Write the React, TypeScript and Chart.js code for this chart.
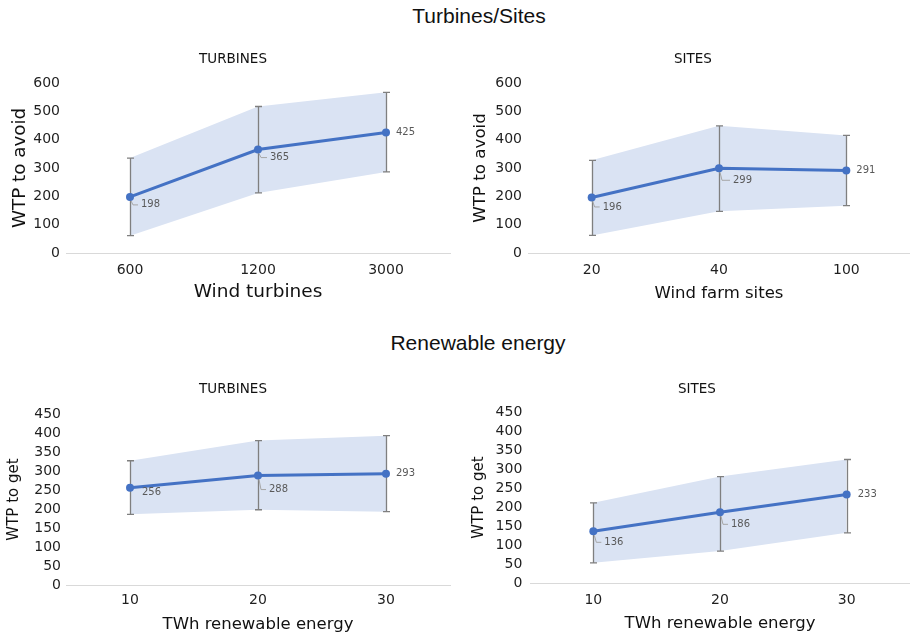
import React, { useEffect, useRef } from 'react';
import { Chart, registerables } from 'chart.js';

Chart.register(...registerables);

// Willingness to pay to avoid more wind turbines
const turbineCategories = ['600', '1200', '3000'];
const turbineAvoidMean = [198, 365, 425];
const turbineAvoidLow = [61, 212, 286];
const turbineAvoidHigh = [335, 517, 567];

// Willingness to pay to avoid more wind farm sites
const siteCategories = ['20', '40', '100'];
const siteAvoidMean = [196, 299, 291];
const siteAvoidLow = [62, 147, 167];
const siteAvoidHigh = [327, 449, 415];

// Willingness to pay to get more renewable energy (TWh)
const twhCategories = ['10', '20', '30'];
const turbineGetMean = [256, 288, 293];
const turbineGetLow = [186, 198, 193];
const turbineGetHigh = [327, 380, 393];

const siteGetMean = [136, 186, 233];
const siteGetLow = [53, 84, 132];
const siteGetHigh = [211, 280, 325];

const avoidAxisMax = 600;
const avoidAxisStep = 100;
const getAxisMax = 450;
const getAxisStep = 50;

const sectionTitles = ['Turbines/Sites', 'Renewable energy'];

const CHART_FONT = '"DejaVu Sans", Verdana, sans-serif';
const SECTION_FONT = '"Liberation Sans", Arial, sans-serif';
const LINE_BLUE = '#4472c4';
const BAND_BLUE = '#dae3f3';

type Panel = {
  caption: string;
  captionX: number;
  captionY: number;
  labels: string[];
  mean: number[];
  low: number[];
  high: number[];
  yMax: number;
  yStep: number;
  yTitle: string;
  xTitle: string;
  left: number;
  top: number;
  width: number;
  height: number;
  padTop: number;
  padRight: number;
  yWidth: number;
  yTickPad: number;
  yTitleSize: number;
  yTitlePad: number;
  xHeight: number;
  xTickPad: number;
  xTitleSize: number;
  xTitlePad: number;
  labelOffsets: [number, number][];
};

const panels: Panel[] = [
  {
    caption: 'TURBINES', captionX: 233, captionY: 58,
    labels: turbineCategories, mean: turbineAvoidMean, low: turbineAvoidLow, high: turbineAvoidHigh,
    yMax: avoidAxisMax, yStep: avoidAxisStep,
    yTitle: 'WTP to avoid', xTitle: 'Wind turbines',
    left: 0, top: 40, width: 455, height: 270,
    padTop: 43, padRight: 5,
    yWidth: 66, yTickPad: 6, yTitleSize: 18.3, yTitlePad: 9.5,
    xHeight: 57, xTickPad: 8.6, xTitleSize: 18.5, xTitlePad: 7.1,
    labelOffsets: [[11, 8], [12, 8], [10, 0]],
  },
  {
    caption: 'SITES', captionX: 693, captionY: 58,
    labels: siteCategories, mean: siteAvoidMean, low: siteAvoidLow, high: siteAvoidHigh,
    yMax: avoidAxisMax, yStep: avoidAxisStep,
    yTitle: 'WTP to avoid', xTitle: 'Wind farm sites',
    left: 460, top: 40, width: 450, height: 270,
    padTop: 43, padRight: 0,
    yWidth: 68, yTickPad: 6, yTitleSize: 16.7, yTitlePad: 10.8,
    xHeight: 57, xTickPad: 8.6, xTitleSize: 16.5, xTitlePad: 6.8,
    labelOffsets: [[11, 9.5], [14, 12], [10, 0]],
  },
  {
    caption: 'TURBINES', captionX: 233, captionY: 388,
    labels: twhCategories, mean: turbineGetMean, low: turbineGetLow, high: turbineGetHigh,
    yMax: getAxisMax, yStep: getAxisStep,
    yTitle: 'WTP to get', xTitle: 'TWh renewable energy',
    left: 0, top: 370, width: 455, height: 266,
    padTop: 44, padRight: 5,
    yWidth: 66, yTickPad: 5, yTitleSize: 15, yTitlePad: 5,
    xHeight: 51, xTickPad: 6.6, xTitleSize: 16.5, xTitlePad: 1.8,
    labelOffsets: [[12, 5], [11, 14], [10, 0]],
  },
  {
    caption: 'SITES', captionX: 697, captionY: 388,
    labels: twhCategories, mean: siteGetMean, low: siteGetLow, high: siteGetHigh,
    yMax: getAxisMax, yStep: getAxisStep,
    yTitle: 'WTP to get', xTitle: 'TWh renewable energy',
    left: 460, top: 370, width: 450, height: 266,
    padTop: 42, padRight: 0,
    yWidth: 70, yTickPad: 7.7, yTitleSize: 15, yTitlePad: 10,
    xHeight: 53, xTickPad: 8.6, xTitleSize: 16.5, xTitlePad: 2.8,
    labelOffsets: [[11, 11], [11, 12], [11, 0]],
  },
];

// Draws confidence whiskers under the mean line, and value labels with short leader lines on top.
const whiskerPlugin = {
  id: 'whiskers',
  beforeDatasetDraw(chart: any, args: any) {
    if (args.index !== 0) return;
    const { ctx } = chart;
    const x = chart.scales.x;
    const y = chart.scales.y;
    const low = chart.data.datasets[1].data as number[];
    const high = chart.data.datasets[2].data as number[];
    ctx.save();
    ctx.strokeStyle = '#7f7f7f';
    ctx.lineWidth = 1.3;
    low.forEach((lo, i) => {
      const px = Math.round(x.getPixelForValue(i)) + 0.5;
      const yl = y.getPixelForValue(lo);
      const yh = y.getPixelForValue(high[i]);
      ctx.beginPath();
      ctx.moveTo(px, yh);
      ctx.lineTo(px, yl);
      ctx.moveTo(px - 3.5, yh);
      ctx.lineTo(px + 3.5, yh);
      ctx.moveTo(px - 3.5, yl);
      ctx.lineTo(px + 3.5, yl);
      ctx.stroke();
    });
    ctx.restore();
  },
  afterDatasetsDraw(chart: any, _args: any, opts: any) {
    const { ctx } = chart;
    const meta = chart.getDatasetMeta(0);
    const values = chart.data.datasets[0].data as number[];
    const offsets = opts.offsets as [number, number][];
    ctx.save();
    ctx.font = `10px ${CHART_FONT}`;
    ctx.fillStyle = '#595959';
    ctx.textAlign = 'left';
    ctx.textBaseline = 'middle';
    ctx.strokeStyle = '#a6a6a6';
    ctx.lineWidth = 1;
    meta.data.forEach((pt: any, i: number) => {
      const [dx, dy] = offsets[i];
      if (dy > 5) {
        ctx.beginPath();
        ctx.moveTo(pt.x + 1, pt.y + 4);
        ctx.lineTo(pt.x + 3, pt.y + dy);
        ctx.lineTo(pt.x + dx - 3, pt.y + dy);
        ctx.stroke();
      }
      ctx.fillText(String(values[i]), pt.x + dx, pt.y + dy);
    });
    ctx.restore();
  },
};

function PanelChart({ p }: { p: Panel }) {
  const ref = useRef<HTMLCanvasElement>(null);

  useEffect(() => {
    const canvas = ref.current;
    if (!canvas) return;
    const chart = new Chart(canvas, {
      type: 'line',
      data: {
        labels: p.labels,
        datasets: [
          {
            data: p.mean,
            borderColor: LINE_BLUE,
            backgroundColor: LINE_BLUE,
            borderWidth: 3,
            pointRadius: 4,
            pointBorderWidth: 0,
            pointBackgroundColor: LINE_BLUE,
            fill: false,
            tension: 0,
          },
          {
            data: p.low,
            borderColor: 'rgba(0,0,0,0)',
            borderWidth: 1,
            pointRadius: 0,
            fill: false,
          },
          {
            data: p.high,
            borderColor: 'rgba(0,0,0,0)',
            borderWidth: 1,
            pointRadius: 0,
            fill: '-1',
            backgroundColor: BAND_BLUE,
          },
        ],
      },
      options: {
        responsive: false,
        animation: false,
        events: [],
        layout: { autoPadding: false, padding: { top: p.padTop, right: p.padRight, left: 0, bottom: 0 } },
        plugins: {
          legend: { display: false },
          tooltip: { enabled: false },
          title: { display: false },
          whiskers: { offsets: p.labelOffsets },
        } as any,
        scales: {
          x: {
            offset: true,
            ticks: { padding: p.xTickPad, color: '#1f1f1f', font: { family: CHART_FONT, size: 14 } },
            grid: { display: false, drawTicks: false, tickLength: 0 },
            border: { display: true, color: '#d9d9d9', width: 1 },
            title: {
              display: true,
              text: p.xTitle,
              color: '#111',
              font: { family: CHART_FONT, size: p.xTitleSize },
              padding: { top: 0, bottom: p.xTitlePad },
            },
            afterFit: (s: any) => {
              s.height = p.xHeight;
            },
          },
          y: {
            min: 0,
            max: p.yMax,
            ticks: {
              stepSize: p.yStep,
              autoSkip: false,
              padding: p.yTickPad,
              color: '#1f1f1f',
              font: { family: CHART_FONT, size: 14 },
            },
            grid: { display: false, drawTicks: false, tickLength: 0 },
            border: { display: false },
            title: {
              display: true,
              text: p.yTitle,
              color: '#111',
              font: { family: CHART_FONT, size: p.yTitleSize },
              padding: { top: p.yTitlePad, bottom: 0 },
            },
            afterFit: (s: any) => {
              s.width = p.yWidth;
            },
          },
        },
      },
      plugins: [whiskerPlugin],
    });
    return () => chart.destroy();
  }, [p]);

  return (
    <canvas
      ref={ref}
      width={p.width}
      height={p.height}
      style={{ position: 'absolute', left: p.left, top: p.top, width: p.width, height: p.height }}
    />
  );
}

function Caption({ text, cx, cy, size, family }: { text: string; cx: number; cy: number; size: number; family: string }) {
  const lh = Math.round(size * 1.3);
  return (
    <div
      style={{
        position: 'absolute',
        left: cx - 200,
        width: 400,
        top: cy - lh / 2,
        height: lh,
        lineHeight: `${lh}px`,
        textAlign: 'center',
        fontSize: size,
        fontFamily: family,
        color: '#111',
        whiteSpace: 'nowrap',
      }}
    >
      {text}
    </div>
  );
}

export default function App() {
  return (
    <div style={{ position: 'absolute', left: 0, top: 0, width: 910, height: 636, background: '#fff', overflow: 'hidden' }}>
      <Caption text={sectionTitles[0]} cx={479} cy={15.4} size={21} family={SECTION_FONT} />
      <Caption text={sectionTitles[1]} cx={478} cy={342.6} size={21} family={SECTION_FONT} />
      {panels.map((p, i) => (
        <React.Fragment key={i}>
          <PanelChart p={p} />
          <Caption text={p.caption} cx={p.captionX} cy={p.captionY} size={13.5} family={CHART_FONT} />
        </React.Fragment>
      ))}
    </div>
  );
}
